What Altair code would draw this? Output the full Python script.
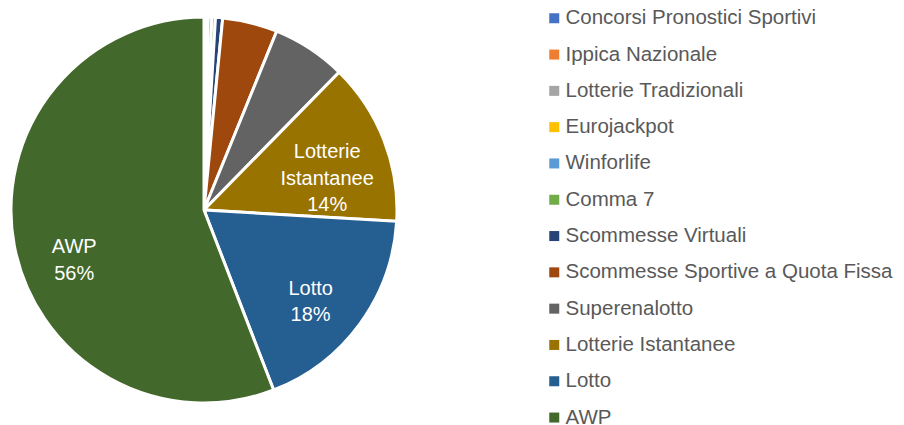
import altair as alt
import pandas as pd

categories = [
    "Concorsi Pronostici Sportivi", "Ippica Nazionale", "Lotterie Tradizionali",
    "Eurojackpot", "Winforlife", "Comma 7", "Scommesse Virtuali",
    "Scommesse Sportive a Quota Fissa", "Superenalotto", "Lotterie Istantanee",
    "Lotto", "AWP",
]
values = [0.1, 0.1, 0.05, 0.1, 0.3, 0.3, 0.6, 4.6, 6.2, 13.6, 18.2, 55.9]
colors = ["#4472C4", "#ED7D31", "#A5A5A5", "#FFC000", "#5B9BD5", "#70AD47",
          "#264478", "#9E480E", "#636363", "#997300", "#255E91", "#43682B"]
labelled = ["Lotterie Istantanee", "Lotto", "AWP"]
label_dy = {"Lotterie Istantanee": -10, "Lotto": 1, "AWP": 13}

total = sum(values)
rows = []
for i, (c, v) in enumerate(zip(categories, values)):
    if c in labelled:
        lab = c.replace(" ", "\n") + "\n" + f"{round(v / total * 100)}%"
    else:
        lab = ""
    rows.append({"cat": c, "val": v, "idx": i, "label": lab})
df = pd.DataFrame(rows)

FONT = "Liberation Sans"
cx, cy = 196, 202

base = alt.Chart(df).encode(
    theta=alt.Theta("val:Q", stack=True),
    order=alt.Order("idx:Q"),
)

pie = base.mark_arc(radius=193, stroke="white", strokeWidth=3).encode(
    x=alt.value(cx), y=alt.value(cy),
    color=alt.Color(
        "cat:N",
        scale=alt.Scale(domain=categories, range=colors),
        sort=None,
        legend=alt.Legend(
            title=None, orient="none", legendX=536, legendY=0,
            symbolType="square", symbolSize=100, symbolStrokeWidth=0,
            labelFont=FONT, labelFontSize=20.5, labelColor="#595959",
            labelOffset=1, rowPadding=15.3, padding=0, labelLimit=400,
        ),
    ),
)

layers = [pie]
for c in labelled:
    layers.append(
        base.transform_calculate(t=f"datum.cat == '{c}' ? datum.label : ''")
        .mark_text(
            radius=132, font=FONT, fontSize=20, color="white", lineBreak="\n",
            lineHeight=26.5, align="center", baseline="middle", dy=label_dy[c],
        )
        .encode(x=alt.value(cx), y=alt.value(cy), text="t:N")
    )

chart = alt.layer(*layers).properties(
    width=888, height=417, padding=0,
    autosize=alt.AutoSizeParams(type="none"),
).configure_view(stroke=None)

chart.save("out.html", embed_options={"renderer": "svg", "actions": False})
